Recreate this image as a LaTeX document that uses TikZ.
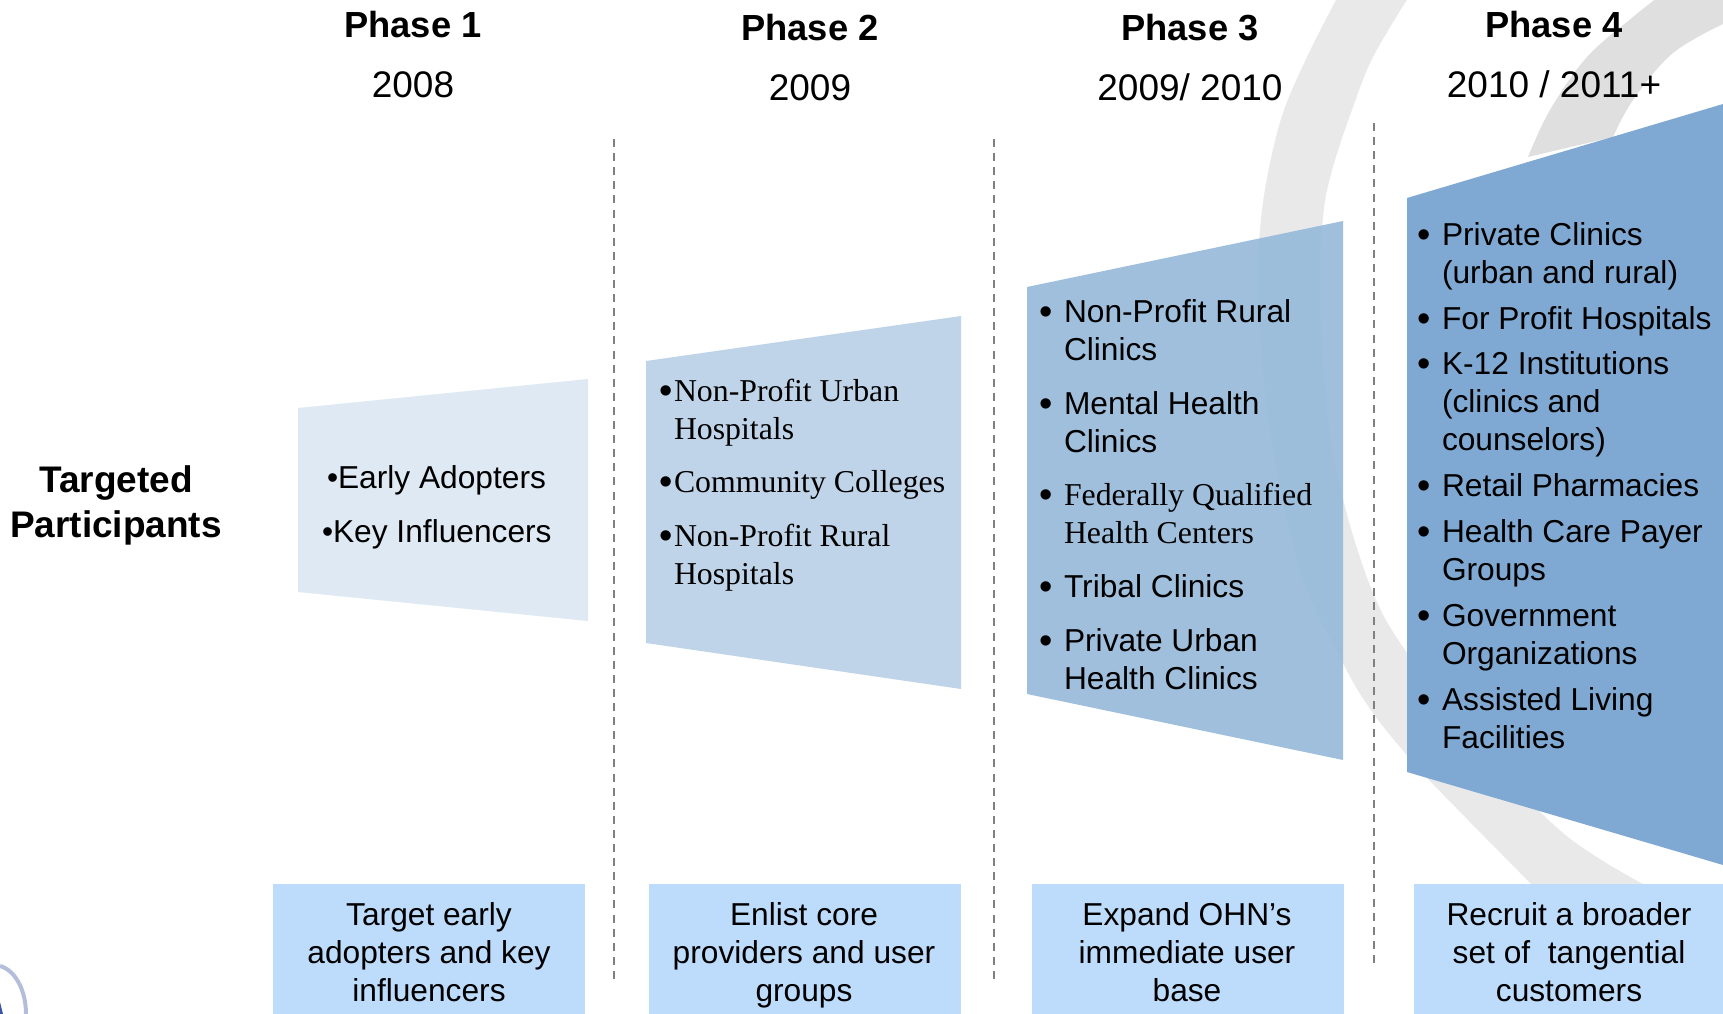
\documentclass[tikz,border=0pt]{standalone}
\usepackage{fontspec}
\setmainfont{Liberation Sans}
\newfontfamily\serifface{Liberation Serif}
\definecolor{bandgray}{HTML}{E9E9E9}
\definecolor{bandtwo}{HTML}{DFDFDF}
\definecolor{phaseA}{HTML}{DFE9F3}
\definecolor{phaseB}{HTML}{BFD4E8}
\definecolor{phaseC}{HTML}{98BBDA}
\definecolor{phaseD}{HTML}{7FA9D2}
\definecolor{goalblue}{HTML}{BDDBFA}
\definecolor{divider}{HTML}{808080}
\definecolor{logoring}{HTML}{B4BEDB}
\definecolor{logocore}{HTML}{3A55A5}
\newcommand{\sans}{\fontsize{31.7}{38}\selectfont}
\newcommand{\serifbody}{\serifface\fontsize{31.8}{38}\selectfont}
\tikzset{
  x=1pt,y=-1pt,
  txt/.style={inner sep=0pt,outer sep=0pt,anchor=base west,align=left,font=\sans,text=black},
  sertxt/.style={txt,font=\serifbody},
  bul/.style={inner sep=0pt,outer sep=0pt,anchor=base,yshift=-2pt,font=\fontsize{38}{38}\selectfont,text=black},
  phasehead/.style={inner sep=0pt,anchor=base,font=\fontsize{36.3}{45}\selectfont\bfseries,text=black},
  rowhead/.style={inner sep=0pt,anchor=base,font=\fontsize{37}{45}\selectfont\bfseries,text=black},
  yearhead/.style={inner sep=0pt,anchor=base,font=\fontsize{37}{45}\selectfont,text=black},
  goaltxt/.style={inner sep=0pt,anchor=base,font=\sans,text=black},
  dividerline/.style={draw=divider,line width=1.6pt,dash pattern=on 8pt off 6.1pt},
}
\begin{document}
\begin{tikzpicture}
\useasboundingbox (0,0) rectangle (1723,1014);
\fill[white] (0,0) rectangle (1723,1014);
\begin{scope}
\clip (0,0) rectangle (1723,1014);
% background crescent
\fill[bandgray] plot[smooth,tension=.6] coordinates {(1337,-2) (1307,57) (1283,113) (1268,173) (1260,230) (1258,300) (1270,430) (1300,570) (1345,667) (1373,713) (1405,753) (1424,775) (1537,890)}
  -- plot[smooth,tension=.6] coordinates {(1654,890) (1563,833) (1470,735) (1405,650) (1373,593) (1345,507) (1328,420) (1320,300) (1323,217) (1333,167) (1353,107) (1373,57) (1408,-2)} -- cycle;
\fill[bandtwo] plot[smooth,tension=.6] coordinates {(1528,157) (1550,110) (1587,57) (1633,17) (1657,-2)}
  -- (1725,-2) -- plot[smooth,tension=.6] coordinates {(1725,23) (1673,53) (1633,100) (1613,137)} -- cycle;
% logo fragment
\draw[color=logoring,line width=4pt] (0,966) .. controls (15,970) and (26,990) .. (26,1014);
\fill[logocore] (0,1002) -- (3,1014) -- (0,1014) -- cycle;
% phase shapes
\fill[phaseA] (298,408) -- (588,379) -- (588,621) -- (298,592) -- cycle;
\fill[phaseB] (646,361) -- (961,316) -- (961,689) -- (646,643) -- cycle;
\fill[phaseC,fill opacity=.93] (1027,287) -- (1343,221) -- (1343,760) -- (1027,694) -- cycle;
\fill[phaseD] (1407,198) -- (1723,104) -- (1723,865) -- (1407,772) -- cycle;
% goal boxes
\fill[goalblue] (273,884) rectangle (585,1014);
\fill[goalblue] (649,884) rectangle (961,1014);
\fill[goalblue] (1032,884) rectangle (1344,1014);
\fill[goalblue] (1414,884) rectangle (1723,1014);
\end{scope}
% dividers
\coordinate (d1a) at (614,139); \coordinate (d1b) at (614,979);
\coordinate (d2a) at (994,139); \coordinate (d2b) at (994,979);
\coordinate (d3a) at (1374,123); \coordinate (d3b) at (1374,963);
\draw[dividerline] (d1a) -- (d1b);
\draw[dividerline] (d2a) -- (d2b);
\draw[dividerline] (d3a) -- (d3b);
% headers
\node[phasehead] (ph1) at (413,37.5) {Phase 1};
\node[yearhead] (yr1) at (413,98) {2008};
\node[phasehead] (ph2) at (810,40.5) {Phase 2};
\node[yearhead] (yr2) at (810,101) {2009};
\node[phasehead] (ph3) at (1190,40.5) {Phase 3};
\node[yearhead] (yr3) at (1190,101) {2009/ 2010};
\node[phasehead] (ph4) at (1554,37.5) {Phase 4};
\node[yearhead] (yr4) at (1554,98) {2010 / 2011+};
% row title
\node[rowhead] (tp1) at (116,492) {Targeted};
\node[rowhead] (tp2) at (116,537) {Participants};
% phase 1 list
\node[txt] (a1) at (327,488) {•Early Adopters};
\node[txt] (a2) at (322,542) {•Key Influencers};
% phase 2 list
\node[bul] (b1) at (666,401) {•};
\node[sertxt] (b1t) at (674,439) {Non-Profit Urban\\Hospitals};
\node[bul] (b2) at (666,492) {•};
\node[sertxt] (b2t) at (674,492) {Community Colleges};
\node[bul] (b3) at (666,546) {•};
\node[sertxt] (b3t) at (674,584) {Non-Profit Rural\\Hospitals};
% phase 3 list
\node[bul] (c1) at (1046,322) {•};
\node[txt] (c1t) at (1064,360) {Non-Profit Rural\\Clinics};
\node[bul] (c2) at (1046,414) {•};
\node[txt] (c2t) at (1064,452) {Mental Health\\Clinics};
\node[bul] (c3) at (1046,505) {•};
\node[sertxt] (c3t) at (1064,543) {Federally Qualified\\Health Centers};
\node[bul] (c4) at (1046,597) {•};
\node[txt] (c4t) at (1064,597) {Tribal Clinics};
\node[bul] (c5) at (1046,651) {•};
\node[txt] (c5t) at (1064,689) {Private Urban\\Health Clinics};
% phase 4 list
\node[bul] (e1) at (1424,245) {•};
\node[txt] (e1t) at (1442,283) {Private Clinics\\(urban and rural)};
\node[bul] (e2) at (1424,329) {•};
\node[txt] (e2t) at (1442,329) {For Profit Hospitals};
\node[bul] (e3) at (1424,374) {•};
\node[txt] (e3t) at (1442,450) {K-12 Institutions\\(clinics and\\counselors)};
\node[bul] (e4) at (1424,496) {•};
\node[txt] (e4t) at (1442,496) {Retail Pharmacies};
\node[bul] (e5) at (1424,542) {•};
\node[txt] (e5t) at (1442,580) {Health Care Payer\\Groups};
\node[bul] (e6) at (1424,626) {•};
\node[txt] (e6t) at (1442,664) {Government\\Organizations};
\node[bul] (e7) at (1424,710) {•};
\node[txt] (e7t) at (1442,748) {Assisted Living\\Facilities};
% goals
\node[goaltxt] (g1a) at (429,925) {Target early};
\node[goaltxt] (g1b) at (429,963) {adopters and key};
\node[goaltxt] (g1c) at (429,1001) {influencers};
\node[goaltxt] (g2a) at (804,925) {Enlist core};
\node[goaltxt] (g2b) at (804,963) {providers and user};
\node[goaltxt] (g2c) at (804,1001) {groups};
\node[goaltxt] (g3a) at (1187,925) {Expand OHN’s};
\node[goaltxt] (g3b) at (1187,963) {immediate user};
\node[goaltxt] (g3c) at (1187,1001) {base};
\node[goaltxt] (g4a) at (1569,925) {Recruit a broader};
\node[goaltxt] (g4b) at (1569,963) {set of\ \ tangential};
\node[goaltxt] (g4c) at (1569,1001) {customers};
\end{tikzpicture}
\end{document}
